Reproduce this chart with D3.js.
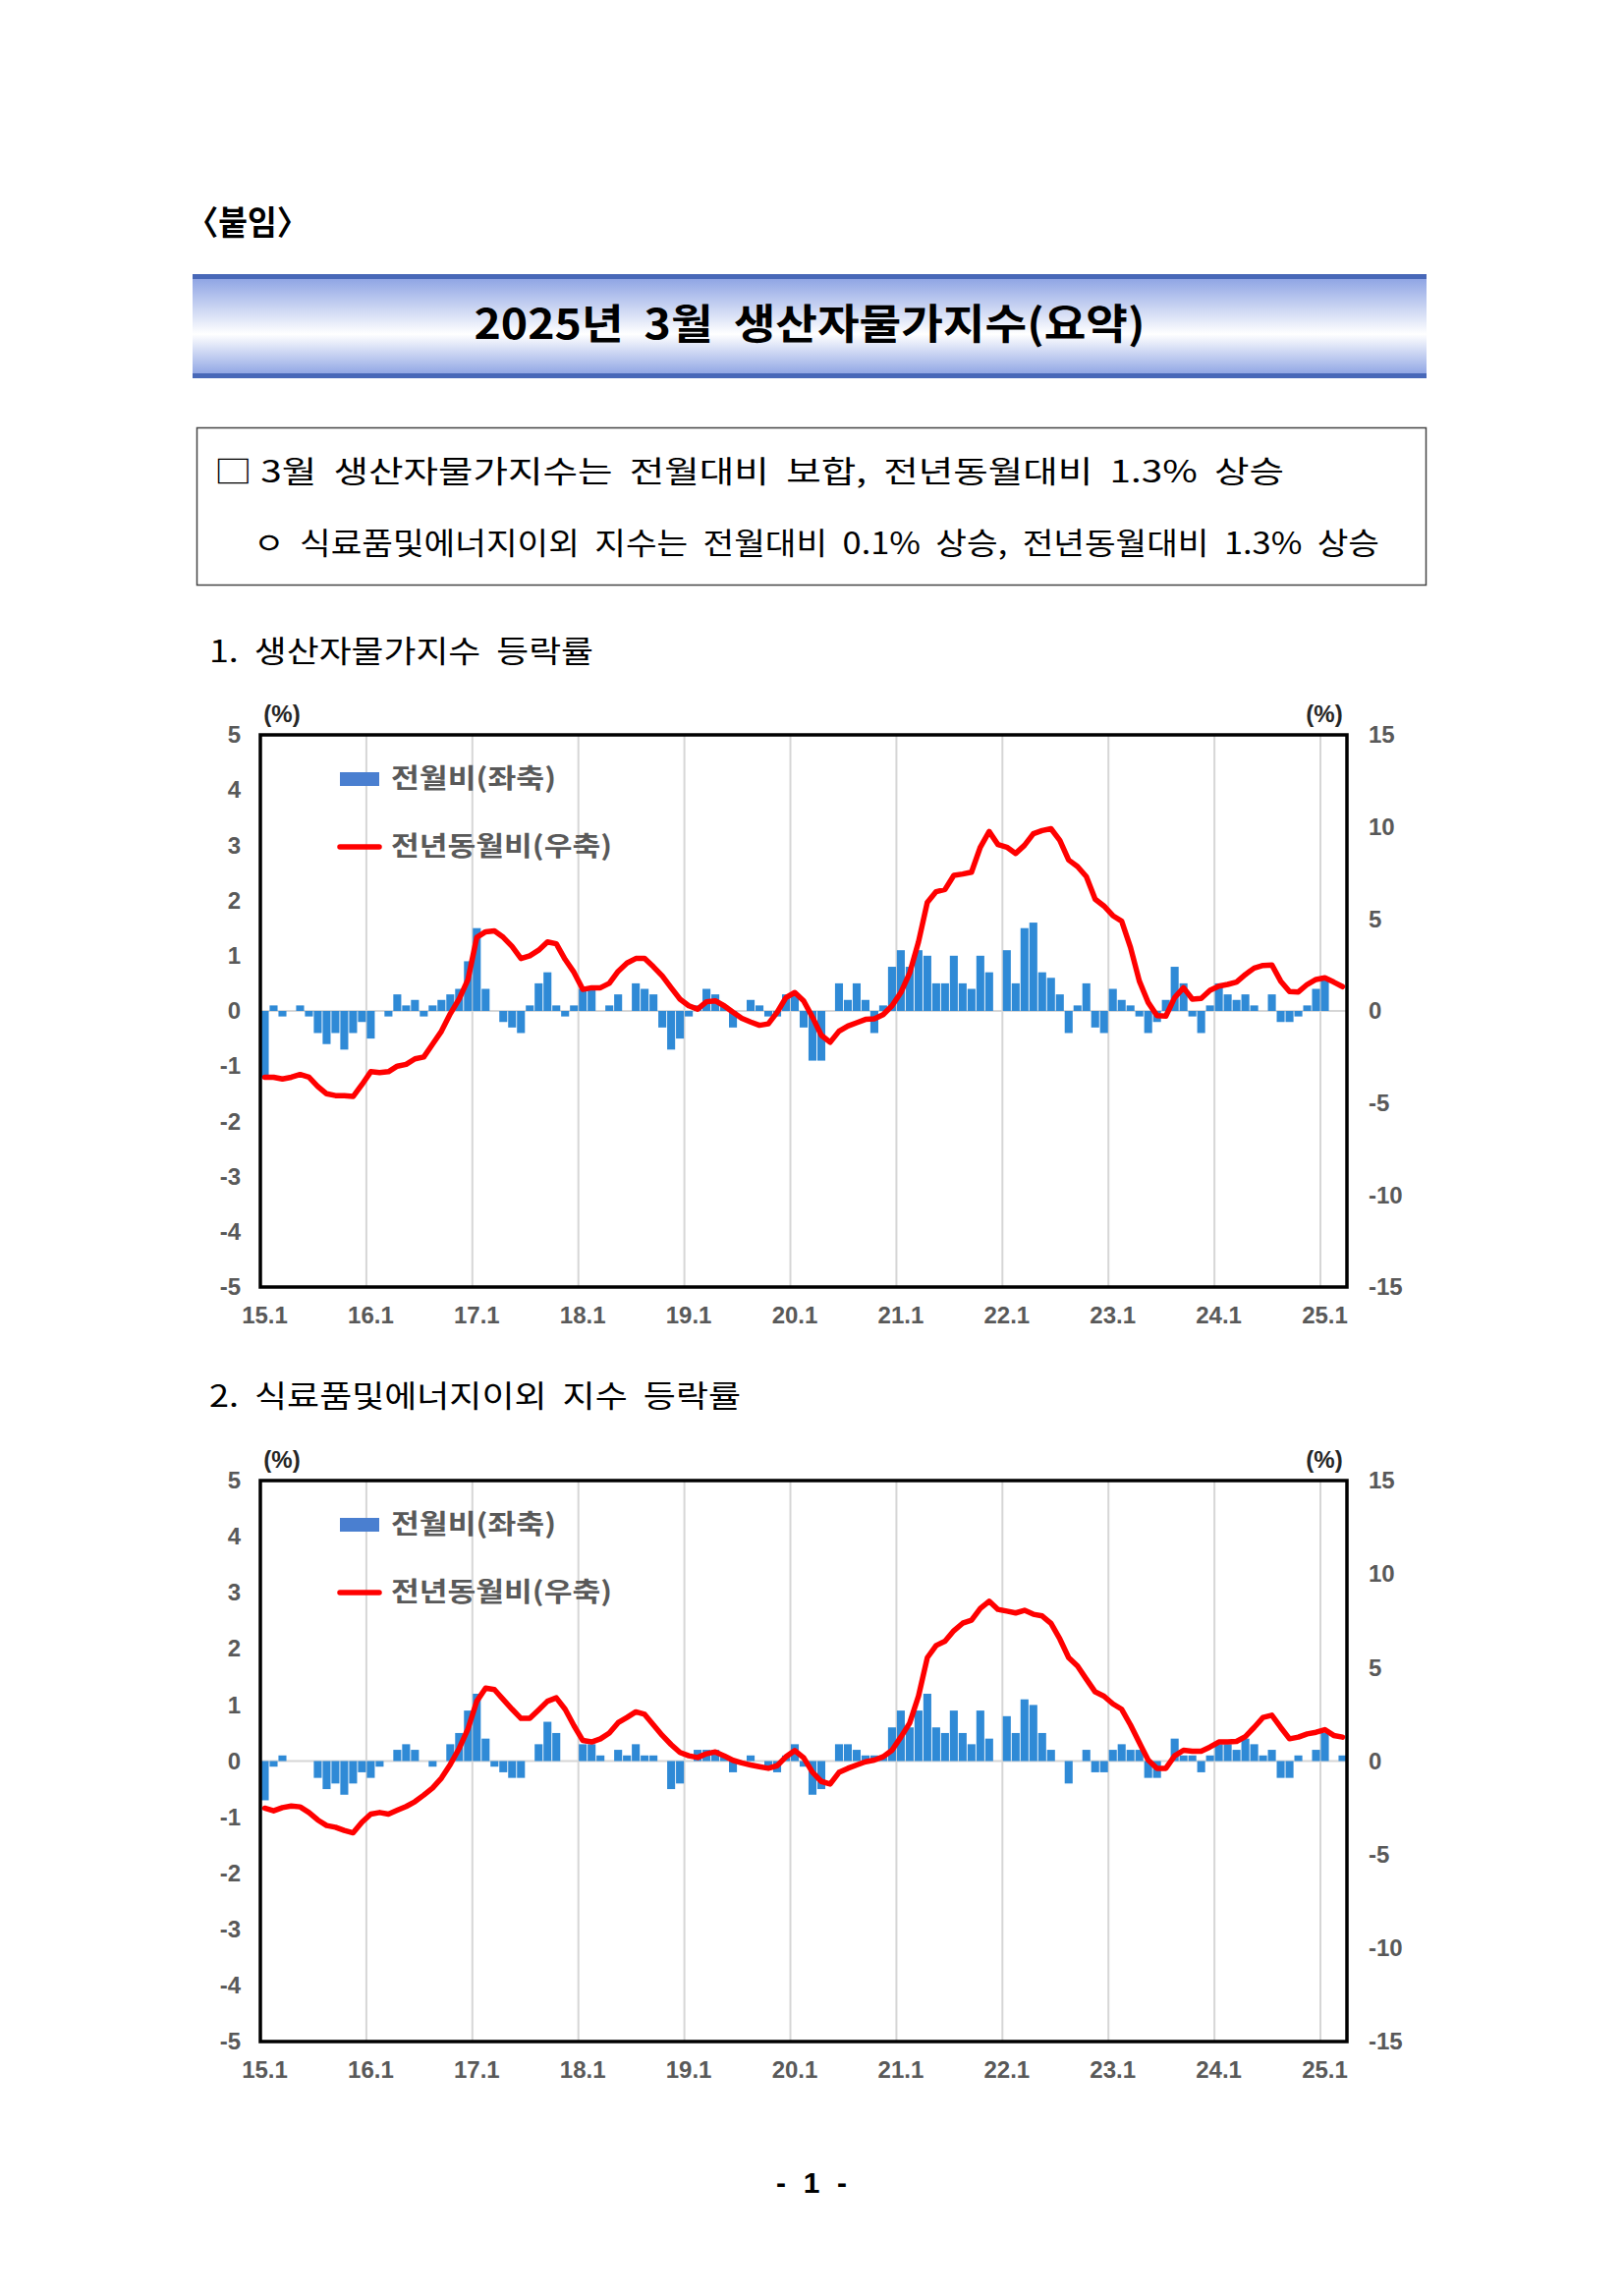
<!DOCTYPE html>
<html><head><meta charset="utf-8">
<script src="https://cdn.jsdelivr.net/npm/d3@7"></script>
<style>
body{margin:0;background:#fff;}
svg{display:block;}
text{white-space:pre;}
</style>
</head><body>
<svg id="page" width="1653" height="2337"></svg>
<script>
// ---------- data ----------
const yearLabels = ["15","16","17","18","19","20","21","22","23","24","25"];
const xTickLabels = ["15.1","16.1","17.1","18.1","19.1","20.1","21.1","22.1","23.1","24.1","25.1"];
const leftTicks = [5,4,3,2,1,0,-1,-2,-3,-4,-5];
const rightTicks = [15,10,5,0,-5,-10,-15];

// 생산자물가지수 전월비 (%)
const ppiMoM = [
 -1.2, 0.1,-0.1, 0.0, 0.1,-0.1,-0.4,-0.6,-0.4,-0.7,-0.4,-0.2,
 -0.5, 0.0,-0.1, 0.3, 0.1, 0.2,-0.1, 0.1, 0.2, 0.3, 0.4, 0.9,
  1.5, 0.4, 0.0,-0.2,-0.3,-0.4, 0.1, 0.5, 0.7, 0.1,-0.1, 0.1,
  0.4, 0.4, 0.0, 0.1, 0.3, 0.0, 0.5, 0.4, 0.3,-0.3,-0.7,-0.5,
 -0.1, 0.1, 0.4, 0.3, 0.1,-0.3, 0.0, 0.2, 0.1,-0.1,-0.1, 0.3,
  0.3,-0.3,-0.9,-0.9, 0.0, 0.5, 0.2, 0.5, 0.2,-0.4, 0.1, 0.8,
  1.1, 0.8, 1.1, 1.0, 0.5, 0.5, 1.0, 0.5, 0.4, 1.0, 0.7, 0.0,
  1.1, 0.5, 1.5, 1.6, 0.7, 0.6, 0.3,-0.4, 0.1, 0.5,-0.3,-0.4,
  0.4, 0.2, 0.1,-0.1,-0.4,-0.2, 0.2, 0.8, 0.5,-0.1,-0.4, 0.1,
  0.5, 0.3, 0.2, 0.3, 0.1, 0.0, 0.3,-0.2,-0.2,-0.1, 0.1, 0.4,
  0.6, 0.0, 0.0
];
// 생산자물가지수 전년동월비 (%)
const ppiYoY = [
 -3.6,-3.6,-3.7,-3.6,-3.45,-3.6,-4.1,-4.5,-4.6,-4.6,-4.65,-4.0,
 -3.3,-3.35,-3.3,-3.0,-2.9,-2.6,-2.5,-1.8,-1.1,-0.15,0.65,1.7,
  4.0, 4.3, 4.35, 4.0, 3.5, 2.85, 3.0, 3.3, 3.75, 3.65, 2.8, 2.1,
  1.17,1.26,1.26, 1.5, 2.15, 2.6, 2.85, 2.85, 2.4, 1.9, 1.26, 0.64,
  0.28,0.1, 0.5, 0.55, 0.28,-0.07,-0.4,-0.6,-0.78,-0.7,-0.07,0.73,
  1.0, 0.55,-0.34,-1.32,-1.7,-1.1,-0.82,-0.64,-0.46,-0.43,-0.2,0.28,
  1.0, 2.06, 3.75, 5.9, 6.48, 6.6, 7.37, 7.44, 7.54, 8.9, 9.75, 9.04,
  8.9, 8.56, 9.0, 9.63, 9.8, 9.9, 9.27, 8.2, 7.85, 7.3, 6.07, 5.7,
  5.18,4.88, 3.45, 1.62, 0.46,-0.25,-0.28,0.73, 1.26, 0.64, 0.68, 1.12,
  1.35,1.44, 1.57, 1.98, 2.33, 2.47, 2.5, 1.62, 1.05, 1.03, 1.44, 1.71,
  1.8, 1.57, 1.32
];
// 식료품및에너지이외 전월비 (%)
const coreMoM = [
 -0.7,-0.1, 0.1, 0.0, 0.0, 0.0,-0.3,-0.5,-0.4,-0.6,-0.4,-0.2,
 -0.3,-0.1, 0.0, 0.2, 0.3, 0.2, 0.0,-0.1, 0.0, 0.3, 0.5, 0.9,
  1.2, 0.4,-0.1,-0.2,-0.3,-0.3, 0.0, 0.3, 0.7, 0.5, 0.0, 0.0,
  0.3, 0.3, 0.1, 0.0, 0.2, 0.1, 0.3, 0.1, 0.1, 0.0,-0.5,-0.4,
  0.0, 0.2, 0.2, 0.2, 0.1,-0.2, 0.0, 0.1, 0.0,-0.1,-0.2, 0.1,
  0.3,-0.1,-0.6,-0.5, 0.0, 0.3, 0.3, 0.2, 0.1, 0.1, 0.1, 0.6,
  0.9, 0.6, 0.9, 1.2, 0.6, 0.5, 0.9, 0.5, 0.3, 0.9, 0.4, 0.0,
  0.8, 0.5, 1.1, 1.0, 0.5, 0.2, 0.0,-0.4, 0.0, 0.2,-0.2,-0.2,
  0.2, 0.3, 0.2, 0.2,-0.3,-0.3, 0.0, 0.4, 0.1, 0.1,-0.2, 0.1,
  0.3, 0.3, 0.2, 0.4, 0.3, 0.1, 0.2,-0.3,-0.3, 0.1, 0.0, 0.2,
  0.5, 0.0, 0.1
];
// 식료품및에너지이외 전년동월비 (%)
const coreYoY = [
 -2.52,-2.66,-2.49,-2.4,-2.45,-2.75,-3.15,-3.45,-3.54,-3.71,-3.84,-3.27,
 -2.84,-2.75,-2.84,-2.63,-2.43,-2.17,-1.82,-1.44,-0.91,-0.18,0.67,1.72,
  3.2, 3.9, 3.82, 3.29, 2.77, 2.28, 2.28, 2.73, 3.2, 3.38, 2.77, 1.89,
  1.1, 1.02, 1.19, 1.5, 2.05, 2.33, 2.63, 2.5, 1.93, 1.37, 0.88, 0.46,
  0.28,0.19, 0.39, 0.49, 0.28, 0.04,-0.1,-0.21,-0.3,-0.39,-0.25,0.23,
  0.56,0.18,-0.6,-1.09,-1.23,-0.61,-0.39,-0.21,-0.04,0.05,0.23,0.58,
  1.28,2.03, 3.47, 5.53, 6.18, 6.41, 6.97, 7.37, 7.53, 8.16, 8.55, 8.11,
  8.02,7.92, 8.06, 7.85, 7.76, 7.36, 6.53, 5.53, 5.08, 4.38, 3.7, 3.47,
  3.06,2.77, 1.93, 0.98, 0.05,-0.39,-0.39,0.28, 0.58, 0.53, 0.53, 0.75,
  1.02,1.02, 1.05, 1.31, 1.8, 2.33, 2.45, 1.8, 1.19, 1.28, 1.45, 1.54,
  1.68,1.37, 1.28
];

// month categories 15.1 .. 25.3
const months = [];
yearLabels.forEach(y => { for (let m = 1; m <= 12; m++) { if (y === "25" && m > 3) break; months.push(y + "." + m); } });

// ---------- page ----------
const svg = d3.select("#page");
const KR = "'Noto Sans CJK KR','Noto Sans',sans-serif";
const AR = "'Liberation Sans',Arial,sans-serif";
const defs = svg.append("defs");
const fmt = d => String(d); // plain hyphen-minus labels

svg.append("rect").attr("width",1653).attr("height",2337).attr("fill","#fff");

// 〈붙임〉
svg.append("text").attr("x",190).attr("y",239).attr("font-family",KR).attr("font-size",34)
  .attr("font-weight",700).attr("fill","#000").attr("textLength",124).attr("lengthAdjust","spacingAndGlyphs").text("〈붙임〉");

// title band
const grad = defs.append("linearGradient").attr("id","tg").attr("x1",0).attr("y1",0).attr("x2",0).attr("y2",1);
grad.append("stop").attr("offset","0%").attr("stop-color","#8aa1e3");
grad.append("stop").attr("offset","58%").attr("stop-color","#ffffff");
grad.append("stop").attr("offset","100%").attr("stop-color","#8aa1e3");
svg.append("rect").attr("x",196).attr("y",281).attr("width",1256).attr("height",102).attr("fill","url(#tg)");
svg.append("rect").attr("x",196).attr("y",279).attr("width",1256).attr("height",5).attr("fill","#4868b8");
svg.append("rect").attr("x",196).attr("y",380).attr("width",1256).attr("height",5).attr("fill","#4868b8");
svg.append("text").attr("x",824).attr("y",345).attr("text-anchor","middle").attr("font-family",KR)
  .attr("font-size",42).attr("font-weight",700).attr("fill","#000")
  .attr("textLength",683).attr("lengthAdjust","spacingAndGlyphs").text("2025년  3월  생산자물가지수(요약)");

// summary box
svg.append("rect").attr("x",200.5).attr("y",435.5).attr("width",1251).attr("height",160)
  .attr("fill","none").attr("stroke","#444").attr("stroke-width",1.5);
svg.append("text").attr("x",218).attr("y",491).attr("font-family",KR).attr("font-size",31).attr("fill","#000")
  .attr("textLength",1089).attr("lengthAdjust","spacingAndGlyphs")
  .text("□ 3월  생산자물가지수는  전월대비  보합,  전년동월대비  1.3%  상승");
svg.append("text").attr("x",258).attr("y",564).attr("font-family",KR).attr("font-size",31).attr("fill","#000")
  .attr("textLength",1146).attr("lengthAdjust","spacingAndGlyphs")
  .text("ㅇ  식료품및에너지이외  지수는  전월대비  0.1%  상승,  전년동월대비  1.3%  상승");

// section headings
svg.append("text").attr("x",213).attr("y",674).attr("font-family",KR).attr("font-size",31).attr("fill","#000")
  .attr("textLength",391).attr("lengthAdjust","spacingAndGlyphs").text("1.  생산자물가지수  등락률");
svg.append("text").attr("x",213).attr("y",1432).attr("font-family",KR).attr("font-size",31).attr("fill","#000")
  .attr("textLength",541).attr("lengthAdjust","spacingAndGlyphs").text("2.  식료품및에너지이외  지수  등락률");

// footer
svg.append("text").attr("x",790).attr("y",2232).attr("font-family",AR)
  .attr("font-size",30).attr("font-weight",700).attr("fill","#000")
  .attr("textLength",72).attr("lengthAdjust","spacing").text("- 1 -");

// ---------- charts ----------
function drawChart(top, bottom, mom, yoy) {
  const left = 265, right = 1371;
  const g = svg.append("g");
  const x = d3.scaleBand().domain(months).range([left, right]).paddingInner(0.1).paddingOuter(0.05);
  const step = x.step();
  const bound = c => x(c) - step * x.paddingInner() / 2;
  const yL = d3.scaleLinear().domain([-5, 5]).range([bottom, top]);
  const yR = d3.scaleLinear().domain([-15, 15]).range([bottom, top]);

  // gridlines (January)
  g.append("g").selectAll("line").data(xTickLabels.slice(1)).join("line")
    .attr("x1", d => bound(d)).attr("x2", d => bound(d))
    .attr("y1", top).attr("y2", bottom).attr("stroke", "#d6d6d6").attr("stroke-width", 2);
  g.append("line").attr("x1", left).attr("x2", right).attr("y1", yL(0)).attr("y2", yL(0))
    .attr("stroke", "#d6d6d6").attr("stroke-width", 2);

  // bars
  g.append("g").selectAll("rect").data(mom.map((v, i) => ({c: months[i], v}))).join("rect")
    .attr("x", d => x(d.c)).attr("width", x.bandwidth())
    .attr("y", d => yL(Math.max(0, d.v))).attr("height", d => Math.abs(yL(d.v) - yL(0)))
    .attr("fill", "#2f8ad6");

  // line
  const line = d3.line().x((d, i) => x(months[i]) + x.bandwidth() / 2).y(d => yR(d));
  g.append("path").datum(yoy).attr("d", line).attr("fill", "none")
    .attr("stroke", "#ff0000").attr("stroke-width", 5.5).attr("stroke-linejoin", "round").attr("stroke-linecap", "round");

  // frame
  g.append("rect").attr("x", left).attr("y", top).attr("width", right - left).attr("height", bottom - top)
    .attr("fill", "none").attr("stroke", "#000").attr("stroke-width", 3.5);

  // axes labels
  const axL = d3.axisLeft(yL).tickValues(leftTicks).tickSize(0).tickPadding(0).tickFormat(fmt);
  const gl = g.append("g").attr("transform", `translate(${left - 20},0)`).call(axL);
  gl.select(".domain").remove();
  gl.selectAll("text").attr("font-family", AR).attr("font-size", 24).attr("font-weight", 700).attr("fill", "#595959");

  const axR = d3.axisRight(yR).tickValues(rightTicks).tickSize(0).tickPadding(0).tickFormat(fmt);
  const gr = g.append("g").attr("transform", `translate(${right + 22},0)`).call(axR);
  gr.select(".domain").remove();
  gr.selectAll("text").attr("font-family", AR).attr("font-size", 24).attr("font-weight", 700).attr("fill", "#595959");

  const axB = d3.axisBottom(x).tickValues(xTickLabels).tickSize(0).tickPadding(0);
  const gb = g.append("g").attr("transform", `translate(0,${bottom + 20})`).call(axB);
  gb.select(".domain").remove();
  gb.selectAll("text").attr("font-family", AR).attr("font-size", 24).attr("font-weight", 700).attr("fill", "#595959")
    .attr("dy", "0.71em");

  // (%) units
  g.append("text").attr("x", 287).attr("y", top - 13).attr("text-anchor", "middle").attr("font-family", AR)
    .attr("font-size", 24).attr("font-weight", 700).attr("fill", "#262626").text("(%)");
  g.append("text").attr("x", 1348).attr("y", top - 13).attr("text-anchor", "middle").attr("font-family", AR)
    .attr("font-size", 24).attr("font-weight", 700).attr("fill", "#262626").text("(%)");

  // legend
  const ly1 = top + 45, ly2 = top + 114;
  g.append("rect").attr("x", 346).attr("y", ly1 - 7).attr("width", 40).attr("height", 14).attr("fill", "#4a7fd0");
  g.append("text").attr("x", 398).attr("y", ly1).attr("dy", "0.35em").attr("font-family", KR).attr("font-size", 27)
    .attr("font-weight", 700).attr("fill", "#595959").attr("textLength", 168).attr("lengthAdjust", "spacingAndGlyphs").text("전월비(좌축)");
  g.append("line").attr("x1", 346).attr("x2", 386).attr("y1", ly2).attr("y2", ly2)
    .attr("stroke", "#ff0000").attr("stroke-width", 5.5).attr("stroke-linecap", "round");
  g.append("text").attr("x", 398).attr("y", ly2).attr("dy", "0.35em").attr("font-family", KR).attr("font-size", 27)
    .attr("font-weight", 700).attr("fill", "#595959").attr("textLength", 225).attr("lengthAdjust", "spacingAndGlyphs").text("전년동월비(우축)");
}

drawChart(748, 1310, ppiMoM, ppiYoY);
drawChart(1507, 2078, coreMoM, coreYoY);
</script>
</body></html>
